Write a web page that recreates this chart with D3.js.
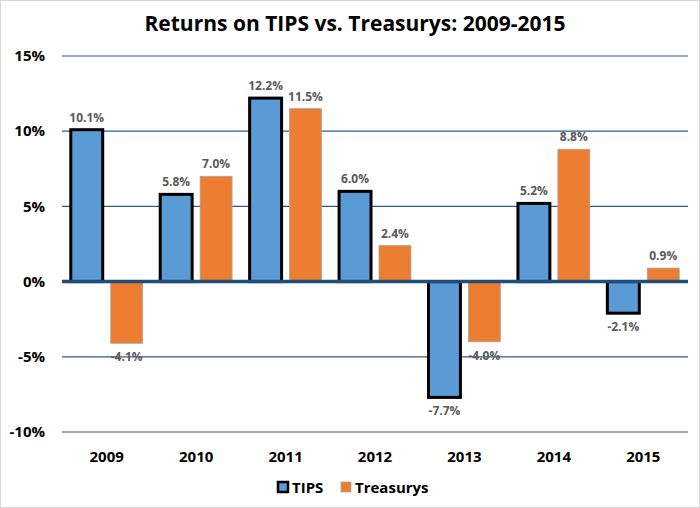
<!DOCTYPE html>
<html lang="en">
<head>
<meta charset="utf-8">
<title>Returns on TIPS vs. Treasurys</title>
<script src="https://cdn.jsdelivr.net/npm/d3@7"></script>
<style>
    body { margin: 0; background: #fff; }
    svg { font-family: "Open Sans", sans-serif; }
    .grid line { stroke: #2b5c8c; stroke-width: 1.2; }
    .ylab text, .xlab text { font-weight: bold; fill: #000; }
    .vlab { font-weight: bold; fill: #595959; font-size: 12px; }
</style>
</head>
<body>
<svg></svg>
<script>
    // data
    var years = ["2009", "2010", "2011", "2012", "2013", "2014", "2015"];
    var tips = [10.1, 5.8, 12.2, 6.0, -7.7, 5.2, -2.1];
    var treasurys = [-4.1, 7.0, 11.5, 2.4, -4.0, 8.8, 0.9];
    var yTicks = [15, 10, 5, 0, -5, -10];
    var seriesNames = ["TIPS", "Treasurys"];

    var width = 700, height = 508;
    var margin = {top: 56, right: 12, bottom: 76, left: 62};

    var svg = d3.select("svg")
        .attr("width", width)
        .attr("height", height);

    // outer border
    svg.append("rect")
        .attr("x", 0.5).attr("y", 0.5)
        .attr("width", width - 1).attr("height", height - 1)
        .attr("fill", "#fff")
        .attr("stroke", "#d9d9d9");

    var x = d3.scaleBand()
        .domain(years)
        .range([margin.left, width - margin.right]);

    var x1 = d3.scaleBand()
        .domain(seriesNames)
        .range([0, x.bandwidth()])
        .paddingInner(0.2)
        .paddingOuter(0.22);

    var y = d3.scaleLinear()
        .domain([-10, 15])
        .range([height - margin.bottom, margin.top]);

    // gridlines
    svg.append("g")
        .attr("class", "grid")
        .selectAll("line")
        .data(yTicks.filter(function (d) { return d !== 0; }))
        .enter().append("line")
        .attr("x1", margin.left)
        .attr("x2", width - margin.right)
        .attr("y1", function (d) { return y(d); })
        .attr("y2", function (d) { return y(d); });

    // y labels
    svg.append("g")
        .attr("class", "ylab")
        .selectAll("text")
        .data(yTicks)
        .enter().append("text")
        .attr("x", 45)
        .attr("y", function (d) { return y(d); })
        .attr("dy", "0.35em")
        .attr("text-anchor", "end")
        .style("font-size", "15px")
        .text(function (d) { return d + "%"; });

    var rows = years.map(function (yr, i) {
        return {year: yr, vals: [
            {s: "TIPS", v: tips[i]},
            {s: "Treasurys", v: treasurys[i]}
        ]};
    });

    var groups = svg.append("g")
        .selectAll("g")
        .data(rows)
        .enter().append("g")
        .attr("transform", function (d) { return "translate(" + x(d.year) + ",0)"; });

    groups.selectAll("rect")
        .data(function (d) { return d.vals; })
        .enter().append("rect")
        .attr("x", function (d) { return x1(d.s); })
        .attr("width", x1.bandwidth())
        .attr("y", function (d) { return y(Math.max(0, d.v)); })
        .attr("height", function (d) { return Math.abs(y(d.v) - y(0)); })
        .attr("fill", function (d) { return d.s === "TIPS" ? "#5b9bd5" : "#ed7d31"; })
        .attr("stroke", function (d) { return d.s === "TIPS" ? "#000" : "#a5a5a5"; })
        .attr("stroke-width", function (d) { return d.s === "TIPS" ? 3 : 0.8; });

    groups.selectAll("text")
        .data(function (d) { return d.vals; })
        .enter().append("text")
        .attr("class", "vlab")
        .attr("x", function (d) { return x1(d.s) + x1.bandwidth() / 2; })
        .attr("y", function (d) { return d.v >= 0 ? y(d.v) - 8 : y(d.v) + 18; })
        .attr("text-anchor", "middle")
        .text(function (d) { return d.v.toFixed(1) + "%"; });

    // zero line
    svg.append("line")
        .attr("x1", margin.left)
        .attr("x2", width - margin.right)
        .attr("y1", y(0))
        .attr("y2", y(0))
        .attr("stroke", "#1f4e79")
        .attr("stroke-width", 3.5);

    // x labels
    svg.append("g")
        .attr("class", "xlab")
        .selectAll("text")
        .data(years)
        .enter().append("text")
        .attr("x", function (d) { return x(d) + x.bandwidth() / 2; })
        .attr("y", 462)
        .attr("text-anchor", "middle")
        .style("font-size", "15px")
        .text(function (d) { return d; });

    // title
    svg.append("text")
        .attr("x", 355)
        .attr("y", 31)
        .attr("text-anchor", "middle")
        .style("font-size", "21px")
        .style("font-weight", "bold")
        .text("Returns on TIPS vs. Treasurys: 2009-2015");

    // legend
    var legend = svg.append("g").attr("transform", "translate(277,488)");
    var legItems = [
        {name: "TIPS", x: 0, fill: "#5b9bd5", stroke: "#000", sw: 2.5},
        {name: "Treasurys", x: 63, fill: "#ed7d31", stroke: "#a5a5a5", sw: 0.8}
    ];
    var li = legend.selectAll("g")
        .data(legItems)
        .enter().append("g")
        .attr("transform", function (d) { return "translate(" + d.x + ",0)"; });
    li.append("rect")
        .attr("x", 1).attr("y", -6)
        .attr("width", 10).attr("height", 10)
        .attr("fill", function (d) { return d.fill; })
        .attr("stroke", function (d) { return d.stroke; })
        .attr("stroke-width", function (d) { return d.sw; });
    li.append("text")
        .attr("x", 15)
        .attr("y", 0)
        .attr("dy", "0.35em")
        .style("font-size", "15px")
        .style("font-weight", "bold")
        .text(function (d) { return d.name; });
</script>
</body>
</html>
